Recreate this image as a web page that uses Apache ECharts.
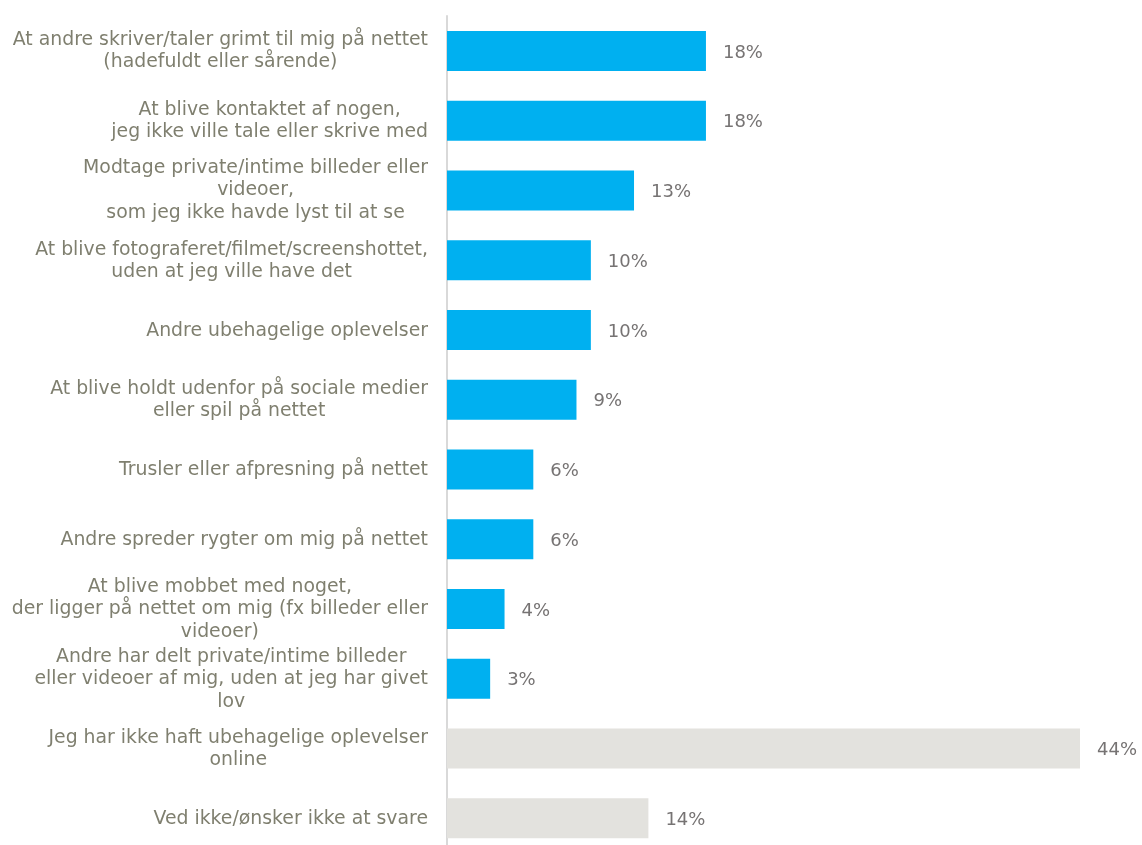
<!DOCTYPE html>
<html>
<head>
<meta charset="utf-8">
<script src="https://cdn.jsdelivr.net/npm/echarts@6/dist/echarts.min.js"></script>
<style>
  html, body { margin: 0; padding: 0; background: #ffffff; }
  #chart { width: 1142px; height: 845px; }
</style>
</head>
<body>
<div id="chart"></div>
<script>
// Answer categories (top to bottom), line breaks as they are shown
const categories = [
  'At andre skriver/taler grimt til mig på nettet\n(hadefuldt eller sårende)',
  'At blive kontaktet af nogen,\njeg ikke ville tale eller skrive med',
  'Modtage private/intime billeder eller\nvideoer,\nsom jeg ikke havde lyst til at se',
  'At blive fotograferet/filmet/screenshottet,\nuden at jeg ville have det',
  'Andre ubehagelige oplevelser',
  'At blive holdt udenfor på sociale medier\neller spil på nettet',
  'Trusler eller afpresning på nettet',
  'Andre spreder rygter om mig på nettet',
  'At blive mobbet med noget,\nder ligger på nettet om mig (fx billeder eller\nvideoer)',
  'Andre har delt private/intime billeder\neller videoer af mig, uden at jeg har givet\nlov',
  'Jeg har ikke haft ubehagelige oplevelser\nonline',
  'Ved ikke/ønsker ikke at svare'
];

// Share of respondents (%)
const shares = [18, 18, 13, 10, 10, 9, 6, 6, 4, 3, 44, 14];

// Whether the answer names an experience (true) or is a non-experience answer (false)
const isExperience = [true, true, true, true, true, true, true, true, true, true, false, false];

const chart = echarts.init(document.getElementById('chart'), null, { renderer: 'canvas' });

const FONT = '"DejaVu Sans", Verdana, sans-serif';
const LABEL_SIZE = 18.85;

chart.setOption({
  animation: false,
  backgroundColor: '#ffffff',
  // the plot runs slightly past the bottom edge of the page
  grid: { left: 447, right: 62, top: 16, height: 837, containLabel: false, outerBoundsMode: 'none' },
  xAxis: {
    type: 'value',
    min: 0,
    max: 44,
    show: false
  },
  yAxis: {
    type: 'category',
    inverse: true,
    data: categories,
    axisLine: { show: true, lineStyle: { color: '#d9d9d9', width: 2 } },
    axisTick: { show: false },
    splitLine: { show: false },
    axisLabel: {
      margin: 19,
      align: 'right',
      fontFamily: FONT,
      fontSize: LABEL_SIZE,
      lineHeight: 23,
      color: '#7f7f6f',
      // each line is centred within the label block; the first line gets a
      // little top padding to sit the block a touch lower
      formatter: function (value) {
        return value.split('\n').map(function (l, i) {
          return '{' + (i === 0 ? 'f' : 'c') + '|' + l + '}';
        }).join('\n');
      },
      rich: {
        f: { align: 'center', fontFamily: FONT, fontSize: LABEL_SIZE, lineHeight: 23, color: '#7f7f6f', padding: [2, 0, 0, 0] },
        c: { align: 'center', fontFamily: FONT, fontSize: LABEL_SIZE, lineHeight: 23, color: '#7f7f6f' }
      }
    }
  },
  series: [{
    type: 'bar',
    data: shares,
    barWidth: 40,
    itemStyle: {
      color: function (p) { return isExperience[p.dataIndex] ? '#00b0f0' : '#e3e2de'; }
    },
    label: {
      show: true,
      position: 'right',
      distance: 17,
      offset: [0, 2],
      fontFamily: FONT,
      fontSize: 18,
      color: '#767373',
      formatter: function (p) { return p.value + '%'; }
    }
  }]
});
</script>
</body>
</html>
